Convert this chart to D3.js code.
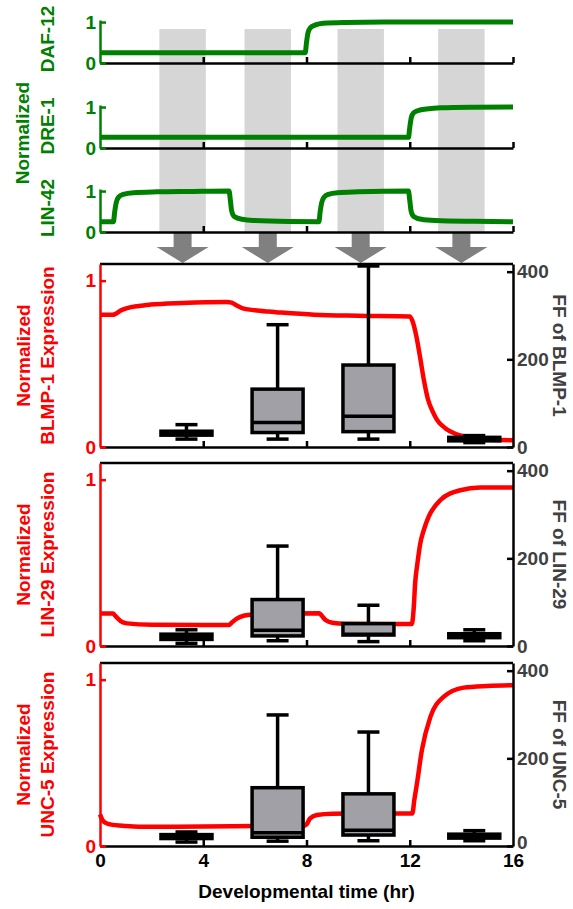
<!DOCTYPE html>
<html>
<head>
<meta charset="utf-8">
<script src="https://cdn.jsdelivr.net/npm/d3@7"></script>
<style>
body { margin: 0; background: #fff; }
svg text { font-family: "Liberation Sans", Arial, sans-serif; font-weight: bold; }
</style>
</head>
<body>
<svg id="chart" width="573" height="909"></svg>
<script>
// ---- data ----
const timeTicks = [0, 4, 8, 12, 16];
const windows = [[2.3, 4.1], [5.6, 7.4], [9.2, 11.0], [13.1, 14.9]];

const regulatorNames = ["DAF-12", "DRE-1", "LIN-42"];
const daf12 = [[0, .25], [7.95, .25], [8.0, .5], [8.06, .74], [8.15, .86], [8.35, .93], [8.65, .97], [9.5, .99], [11, 1.0], [16, 1.0]];
const dre1 = [[0, .26], [11.95, .26], [12.0, .5], [12.06, .74], [12.15, .86], [12.35, .92], [12.65, .95], [13.2, .98], [14.5, .995], [16, 1.0]];
const lin42 = [[0, .25], [0.52, .25], [0.57, .5], [0.63, .72], [0.72, .85], [0.9, .92], [1.3, .96], [2.2, .98], [3.5, .99], [5.0, 1.0],
    [5.05, .78], [5.1, .52], [5.2, .38], [5.5, .31], [6.0, .28], [7.4, .255], [8.48, .25],
    [8.53, .5], [8.59, .72], [8.68, .85], [8.85, .92], [9.2, .96], [10.0, .98], [11.95, 1.0],
    [12.0, .78], [12.05, .52], [12.15, .38], [12.45, .31], [13.0, .28], [14.5, .26], [16, .25]];

const targetNames = ["BLMP-1", "LIN-29", "UNC-5"];
const blmp1 = [[0, .795], [0.5, .795], [0.6, .80], [0.8, .82], [1.05, .835], [1.5, .848], [1.95, .856], [3.2, .866], [4.9, .872],
    [5.1, .868], [5.3, .85], [5.5, .835], [6.0, .822], [6.5, .814], [7.0, .808], [8.3, .795], [10, .789], [12.0, .785],
    [12.1, .76], [12.25, .67], [12.4, .54], [12.55, .40], [12.7, .29], [12.9, .21], [13.05, .165], [13.4, .11],
    [13.7, .084], [14.2, .06], [14.7, .048], [15.5, .042], [16, .04]];
const lin29 = [[0, .196], [0.5, .196], [0.6, .18], [0.8, .15], [1.05, .136], [2, .128], [5.0, .126], [5.1, .14], [5.3, .165],
    [5.6, .183], [6.0, .19], [7, .196], [8.5, .197], [8.6, .18], [8.75, .155], [9.0, .14], [9.5, .134], [12.08, .132],
    [12.15, .22], [12.21, .38], [12.3, .50], [12.4, .61], [12.55, .70], [12.73, .776], [13.18, .876], [13.96, .936],
    [14.73, .952], [16, .952]];
const unc5 = [[0, .19], [0.08, .16], [0.2, .14], [0.4, .13], [1.0, .12], [1.5, .116], [4, .117], [6, .12], [7.9, .122],
    [8.0, .13], [8.14, .166], [8.4, .186], [9.0, .194], [12.1, .196], [12.18, .28], [12.28, .376], [12.47, .576],
    [12.8, .776], [13.31, .896], [14.09, .952], [15, .962], [16, .966]];

// Fano factor box plots (t = hr, values in FF units)
const blmp1Boxes = [
    { t: 3.35, lo: 18, q1: 27, med: 32, q3: 36, hi: 51 },
    { t: 6.88, lo: 18, q1: 33, med: 56, q3: 132, hi: 279 },
    { t: 10.4, lo: 18, q1: 35, med: 70, q3: 187, hi: 413 },
    { t: 14.5, lo: 10, q1: 14, med: 18, q3: 22, hi: 26 },
];
const lin29Boxes = [
    { t: 3.35, lo: 6, q1: 15, med: 21, q3: 27, hi: 37 },
    { t: 6.88, lo: 12, q1: 23, med: 36, q3: 106, hi: 228 },
    { t: 10.4, lo: 10, q1: 25, med: 27, q3: 51, hi: 93 },
    { t: 14.5, lo: 12, q1: 19, med: 24, q3: 28, hi: 37 },
];
const unc5Boxes = [
    { t: 3.35, lo: 9, q1: 17, med: 21, q3: 26, hi: 32 },
    { t: 6.88, lo: 11, q1: 20, med: 30, q3: 133, hi: 299 },
    { t: 10.4, lo: 12, q1: 25, med: 36, q3: 119, hi: 260 },
    { t: 14.5, lo: 12, q1: 18, med: 22, q3: 27, hi: 35 },
];

// ---- layout ----
const green = "#008000", red = "#ff0000", darkGrey = "#404040";
const fs = 19;
const svg = d3.select("#chart");
const x = d3.scaleLinear().domain([0, 16]).range([100, 513]);

const styleAxis = (g, lineColor, textColor) => {
    g.select(".domain").attr("stroke", lineColor).attr("stroke-width", 2.5);
    g.selectAll(".tick line").attr("stroke", "#000").attr("stroke-width", 2.5);
    g.selectAll(".tick text").attr("fill", textColor).attr("font-size", fs)
        .attr("font-family", null);
};

// shaded windows
svg.append("g").selectAll("rect").data(windows).join("rect")
    .attr("x", (d) => x(d[0]))
    .attr("width", (d) => x(d[1]) - x(d[0]))
    .attr("y", 29)
    .attr("height", 204)
    .attr("fill", "#d6d6d6");

// arrows pointing down to the target panels
svg.append("g").attr("fill", "#808080").selectAll("path").data(windows).join("path")
    .attr("d", (d) => {
        const cx = x((d[0] + d[1]) / 2);
        return `M${cx - 9},233V247H${cx - 26}L${cx},263L${cx + 26},247H${cx + 9}V233Z`;
    });

// ---- regulator panels ----
const topBase = [63, 148, 232];
const regCurves = [daf12, dre1, lin42];
const regLabelY = [39, 126, 208];

regulatorNames.forEach((name, i) => {
    const base = topBase[i];
    const y = d3.scaleLinear().domain([0, 1.05]).range([base, base - 43]);
    const g = svg.append("g");

    const xa = g.append("g").attr("transform", `translate(0,${base})`)
        .call(d3.axisBottom(x).tickValues([4, 8, 12, 16]).tickSize(-6).tickSizeOuter(0).tickFormat(""));
    styleAxis(xa, "#000", "#000");

    const ya = g.append("g").attr("transform", `translate(${x(0)},0)`)
        .call(d3.axisLeft(y).tickValues([0, 1]).tickSize(-6).tickSizeOuter(0).tickPadding(4).tickFormat(d3.format("d")));
    styleAxis(ya, green, green);
    ya.selectAll(".tick line").attr("stroke", green);

    g.append("path")
        .datum(regCurves[i])
        .attr("fill", "none")
        .attr("stroke", green)
        .attr("stroke-width", 5)
        .attr("d", d3.line().x((d) => x(d[0])).y((d) => y(d[1])).curve(d3.curveMonotoneX));

    g.append("text")
        .attr("transform", `translate(47,${regLabelY[i]}) rotate(-90)`)
        .attr("dy", "0.35em")
        .attr("text-anchor", "middle")
        .attr("font-size", fs)
        .attr("fill", green)
        .text(name);
});

svg.append("text")
    .attr("transform", "translate(22,133) rotate(-90)")
    .attr("dy", "0.35em")
    .attr("text-anchor", "middle")
    .attr("font-size", fs)
    .attr("fill", green)
    .text("Normalized");

// ---- target panels ----
const panelTop = [264, 463, 663];
const panelH = 183;
const targetCurves = [blmp1, lin29, unc5];
const targetBoxes = [blmp1Boxes, lin29Boxes, unc5Boxes];
const boxW = 51, capW = 22;

targetNames.forEach((name, i) => {
    const top = panelTop[i], bottom = top + panelH;
    const yL = d3.scaleLinear().domain([0, 1.1]).range([bottom, top]);
    const yR = d3.scaleLinear().domain([0, 417.5]).range([bottom, top]);
    const g = svg.append("g");
    const last = i === targetNames.length - 1;

    // frame top
    g.append("line")
        .attr("x1", x(0)).attr("x2", x(16))
        .attr("y1", top).attr("y2", top)
        .attr("stroke", "#000").attr("stroke-width", 2.5);

    const xa = g.append("g").attr("transform", `translate(0,${bottom})`)
        .call(d3.axisBottom(x).tickValues(timeTicks).tickSize(-6).tickSizeOuter(0).tickPadding(8)
            .tickFormat(last ? d3.format("d") : ""));
    styleAxis(xa, "#000", "#000");
    xa.selectAll(".tick line").filter((d) => d === 0 || d === 16).remove();

    // curve
    g.append("path")
        .datum(targetCurves[i])
        .attr("fill", "none")
        .attr("stroke", red)
        .attr("stroke-width", 4.5)
        .attr("d", d3.line().x((d) => x(d[0])).y((d) => yL(d[1])).curve(d3.curveMonotoneX));

    // boxes
    const bx = g.append("g").attr("stroke", "#000").attr("stroke-width", 3.5)
        .selectAll("g").data(targetBoxes[i]).join("g")
        .attr("transform", (d) => `translate(${x(d.t)},0)`);
    bx.append("line").attr("y1", (d) => yR(d.hi)).attr("y2", (d) => yR(d.q3));
    bx.append("line").attr("y1", (d) => yR(d.q1)).attr("y2", (d) => yR(d.lo));
    bx.append("line").attr("x1", -capW / 2).attr("x2", capW / 2)
        .attr("y1", (d) => yR(d.hi)).attr("y2", (d) => yR(d.hi));
    bx.append("line").attr("x1", -capW / 2).attr("x2", capW / 2)
        .attr("y1", (d) => yR(d.lo)).attr("y2", (d) => yR(d.lo));
    bx.append("rect")
        .attr("x", -boxW / 2).attr("width", boxW)
        .attr("y", (d) => yR(d.q3))
        .attr("height", (d) => yR(d.q1) - yR(d.q3))
        .attr("fill", "#a0a0a6");
    bx.append("line").attr("x1", -boxW / 2).attr("x2", boxW / 2)
        .attr("y1", (d) => yR(d.med)).attr("y2", (d) => yR(d.med));

    const ya = g.append("g").attr("transform", `translate(${x(0)},0)`)
        .call(d3.axisLeft(yL).tickValues([0, 1]).tickSize(-6).tickSizeOuter(0).tickPadding(4).tickFormat(d3.format("d")));
    styleAxis(ya, red, red);
    ya.selectAll(".tick line").attr("stroke", red);

    const yr = g.append("g").attr("transform", `translate(${x(16)},0)`)
        .call(d3.axisRight(yR).tickValues([0, 200, 400]).tickSize(-6).tickSizeOuter(0).tickPadding(4));
    styleAxis(yr, "#000", darkGrey);
    if (last) yr.selectAll(".tick text").filter((d) => d === 0).attr("dy", "0.15em");

    const cy = top + panelH / 2;
    [["Normalized", 23], [name + " Expression", 47]].forEach(([txt, tx]) => {
        g.append("text")
            .attr("transform", `translate(${tx},${cy}) rotate(-90)`)
            .attr("dy", "0.35em")
            .attr("text-anchor", "middle")
            .attr("font-size", fs)
            .attr("fill", red)
            .text(txt);
    });
    g.append("text")
        .attr("transform", `translate(560,${cy}) rotate(90)`)
        .attr("dy", "0.35em")
        .attr("text-anchor", "middle")
        .attr("font-size", fs)
        .attr("fill", darkGrey)
        .text("FF of " + name);
});

svg.append("text")
    .attr("x", x(8))
    .attr("y", 891)
    .attr("dy", "0.35em")
    .attr("text-anchor", "middle")
    .attr("font-size", fs)
    .attr("fill", "#000")
    .text("Developmental time (hr)");
</script>
</body>
</html>
